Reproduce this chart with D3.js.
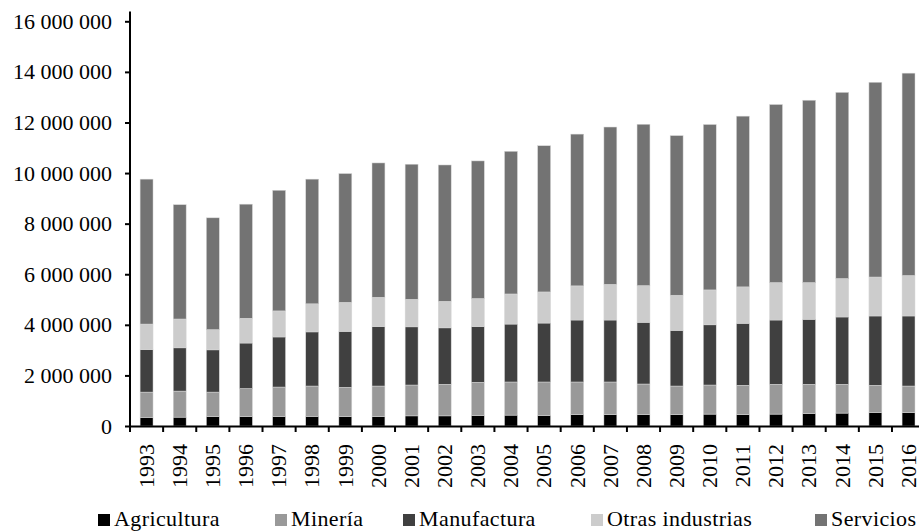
<!DOCTYPE html>
<html><head><meta charset="utf-8">
<script src="https://cdn.jsdelivr.net/npm/d3@7"></script>
<style>
body{margin:0;background:#fff;}
svg text{font-family:"Liberation Serif","Times New Roman",serif !important;fill:#000;}
</style>
</head><body>
<svg id="chart" width="919" height="531"></svg>
<script>
const years = ["1993","1994","1995","1996","1997","1998","1999","2000","2001","2002","2003","2004","2005","2006","2007","2008","2009","2010","2011","2012","2013","2014","2015","2016"];
const agricultura = [340000,350000,370000,370000,370000,380000,370000,370000,400000,400000,410000,430000,410000,450000,450000,450000,450000,470000,450000,470000,490000,510000,530000,530000];
const mineria = [1000000,1030000,970000,1110000,1170000,1200000,1160000,1210000,1220000,1250000,1320000,1310000,1330000,1290000,1290000,1210000,1130000,1150000,1160000,1180000,1160000,1140000,1080000,1050000];
const manufactura = [1680000,1710000,1670000,1800000,1980000,2140000,2210000,2350000,2300000,2230000,2200000,2290000,2330000,2450000,2450000,2440000,2200000,2380000,2450000,2540000,2570000,2660000,2740000,2770000];
const otras = [1010000,1140000,800000,980000,1030000,1110000,1150000,1160000,1090000,1050000,1110000,1190000,1230000,1350000,1410000,1450000,1390000,1380000,1440000,1480000,1450000,1520000,1540000,1600000];
const servicios = [5730000,4520000,4420000,4510000,4770000,4930000,5090000,5310000,5340000,5390000,5440000,5640000,5780000,6000000,6220000,6380000,6310000,6540000,6750000,7040000,7210000,7360000,7700000,8000000];
const seriesNames = ["Agricultura","Minería","Manufactura","Otras industrias","Servicios"];
const yTicks = [0,2000000,4000000,6000000,8000000,10000000,12000000,14000000,16000000];

const colors = ["#000000","#999999","#404040","#cccccc","#737373"];
const seriesData = [agricultura, mineria, manufactura, otras, servicios];
const FONT = "'Liberation Serif','Times New Roman',serif";

const rows = years.map((yr,i)=>{
  const r = {year:yr};
  seriesNames.forEach((n,k)=>{ r[n] = seriesData[k][i]; });
  return r;
});

const svg = d3.select("#chart");
const mLeft = 130, mRight = 925.1, mTop = 21.3, mBottom = 426;

const x = d3.scaleBand().domain(years).range([mLeft,mRight]).paddingInner(0.61).paddingOuter(0.305);
const y = d3.scaleLinear().domain([0,16000000]).range([mBottom,mTop]);

const stacked = d3.stack().keys(seriesNames)(rows);

const g = svg.append("g");
g.selectAll("g.s").data(stacked).join("g")
  .attr("fill",(d,i)=>colors[i])
  .selectAll("rect").data(d=>d).join("rect")
  .attr("x",d=>x(d.data.year))
  .attr("width",x.bandwidth())
  .attr("y",d=>y(d[1]))
  .attr("height",d=>y(d[0])-y(d[1]))
  .attr("stroke","#d8d8d8").attr("stroke-width",0.5);

const fmt = v => d3.format(",")(v).replace(/,/g," ");

// y axis
const yAxis = svg.append("g").attr("transform",`translate(${mLeft},0)`)
  .call(d3.axisLeft(y).tickValues(yTicks).tickFormat(fmt).tickSize(5).tickPadding(13))
  .attr("font-family",FONT).attr("font-size",22);
yAxis.select(".domain").remove();
yAxis.selectAll(".tick line").attr("stroke","#000").attr("stroke-width",2);
yAxis.selectAll("text").attr("font-size",22).attr("font-family",FONT).attr("fill","#000");
svg.append("line").attr("x1",mLeft).attr("x2",mLeft).attr("y1",11.5).attr("y2",mBottom+1)
  .attr("stroke","#000").attr("stroke-width",2);

// x axis
const xAxis = svg.append("g").attr("transform",`translate(0,${mBottom})`)
  .call(d3.axisBottom(x).tickSize(0).tickPadding(0))
  .attr("font-family",FONT).attr("font-size",22);
xAxis.select(".domain").attr("stroke","#000").attr("stroke-width",2);
xAxis.selectAll("text")
  .attr("font-size",22)
  .attr("font-family",FONT)
  .attr("fill","#000")
  .attr("text-anchor","end")
  .attr("transform","rotate(-90)")
  .attr("dy","0.33em")
  .attr("x",-18)
  .attr("y",0);
// boundary ticks
const step = x.step();
const bounds = d3.range(years.length+1).map(i=>mLeft + i*step);
xAxis.selectAll("line.bt").data(bounds).join("line").attr("class","bt")
  .attr("x1",d=>d).attr("x2",d=>d).attr("y1",0).attr("y2",6)
  .attr("stroke","#000").attr("stroke-width",2);

// legend
const legendX = [98, 275, 403, 591, 815];
const lg = svg.append("g");
seriesNames.forEach((n,i)=>{
  lg.append("rect").attr("x",legendX[i]).attr("y",514).attr("width",12).attr("height",12).attr("fill",colors[i]);
  lg.append("text").attr("x",legendX[i]+16).attr("y",525.5).attr("font-size",22)
    .attr("font-family",FONT).attr("letter-spacing",0.4).text(n);
});
</script>
</body></html>
